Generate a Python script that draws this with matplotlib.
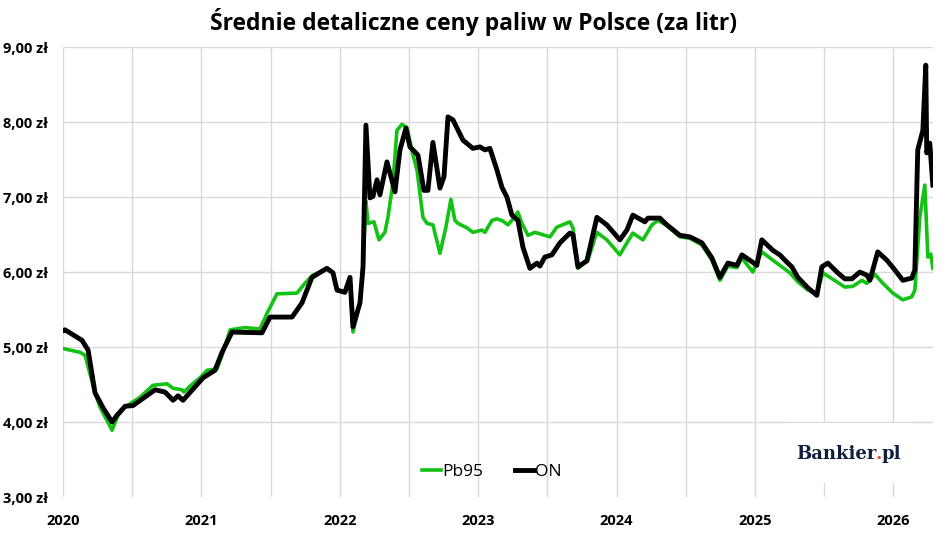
import matplotlib.pyplot as plt
import numpy as np
from matplotlib.patches import Rectangle

plt.rcParams['font.family'] = ['Open Sans', 'DejaVu Sans']

# daty jako ulamek roku, ceny w zl/litr
pb95_t = [0.000, 0.123, 0.159, 0.231, 0.267, 0.354, 0.397, 0.448, 0.556, 0.650,
          0.751, 0.795, 0.860, 0.874, 0.918, 0.990, 1.040, 1.113, 1.149, 1.207,
          1.315, 1.423, 1.474, 1.546, 1.691, 1.748, 1.799, 1.907, 1.951, 1.980,
          2.037, 2.074, 2.095, 2.146, 2.168, 2.189, 2.204, 2.247, 2.283, 2.326,
          2.348, 2.384, 2.413, 2.449, 2.485, 2.529, 2.558, 2.601, 2.630, 2.673,
          2.724, 2.767, 2.803, 2.832, 2.854, 2.919, 2.962, 3.027, 3.049, 3.100,
          3.136, 3.179, 3.215, 3.244, 3.287, 3.316, 3.360, 3.410, 3.519, 3.569,
          3.663, 3.685, 3.721, 3.793, 3.858, 3.930, 4.024, 4.075, 4.118, 4.191,
          4.256, 4.299, 4.364, 4.458, 4.530, 4.617, 4.689, 4.747, 4.805, 4.870,
          4.906, 4.985, 5.050, 5.180, 5.253, 5.310, 5.383, 5.448, 5.491, 5.592,
          5.650, 5.708, 5.773, 5.809, 5.867, 5.925, 5.997, 6.069, 6.134, 6.156,
          6.192, 6.228, 6.250, 6.271, 6.286]
pb95_v = [4.98, 4.93, 4.89, 4.39, 4.20, 3.89, 4.09, 4.20, 4.33, 4.49,
          4.51, 4.45, 4.43, 4.40, 4.48, 4.59, 4.69, 4.71, 4.89, 5.23,
          5.26, 5.24, 5.45, 5.71, 5.72, 5.85, 5.95, 6.05, 5.99, 5.76,
          5.73, 5.93, 5.20, 5.59, 6.07, 6.95, 6.65, 6.67, 6.43, 6.53,
          6.73, 7.19, 7.89, 7.97, 7.93, 7.56, 7.36, 6.73, 6.65, 6.63,
          6.25, 6.60, 6.97, 6.69, 6.65, 6.59, 6.53, 6.56, 6.53, 6.69,
          6.71, 6.68, 6.63, 6.69, 6.80, 6.65, 6.49, 6.53, 6.47, 6.60,
          6.67, 6.59, 6.05, 6.16, 6.53, 6.43, 6.23, 6.39, 6.52, 6.43,
          6.63, 6.69, 6.62, 6.47, 6.45, 6.36, 6.16, 5.89, 6.08, 6.06,
          6.19, 6.00, 6.27, 6.09, 5.99, 5.87, 5.76, 5.72, 5.99, 5.87,
          5.80, 5.81, 5.89, 5.85, 5.97, 5.85, 5.72, 5.63, 5.67, 5.76,
          6.73, 7.16, 6.20, 6.24, 6.05]

on_t = [0.000, 0.014, 0.137, 0.181, 0.231, 0.289, 0.354, 0.390, 0.448, 0.506,
        0.665, 0.737, 0.795, 0.831, 0.867, 0.954, 1.012, 1.098, 1.149, 1.221,
        1.438, 1.496, 1.655, 1.727, 1.799, 1.907, 1.951, 1.980, 2.037, 2.074,
        2.095, 2.146, 2.168, 2.189, 2.218, 2.240, 2.269, 2.290, 2.341, 2.399,
        2.435, 2.478, 2.507, 2.565, 2.608, 2.637, 2.673, 2.724, 2.753, 2.782,
        2.818, 2.890, 2.962, 3.013, 3.049, 3.085, 3.136, 3.172, 3.208, 3.244,
        3.287, 3.324, 3.374, 3.425, 3.446, 3.482, 3.533, 3.591, 3.663, 3.685,
        3.721, 3.786, 3.858, 3.930, 4.024, 4.075, 4.118, 4.205, 4.227, 4.313,
        4.364, 4.458, 4.530, 4.617, 4.689, 4.747, 4.805, 4.870, 4.906, 4.985,
        5.014, 5.050, 5.130, 5.180, 5.238, 5.267, 5.310, 5.383, 5.448, 5.484,
        5.527, 5.599, 5.650, 5.701, 5.758, 5.809, 5.831, 5.888, 5.953, 6.011,
        6.069, 6.134, 6.156, 6.177, 6.214, 6.235, 6.242, 6.264, 6.286]
on_v = [5.22, 5.23, 5.09, 4.96, 4.39, 4.19, 4.00, 4.09, 4.21, 4.22,
        4.43, 4.40, 4.29, 4.35, 4.29, 4.47, 4.59, 4.69, 4.93, 5.20,
        5.19, 5.40, 5.40, 5.59, 5.93, 6.05, 5.99, 5.76, 5.73, 5.93,
        5.27, 5.59, 6.07, 7.96, 6.99, 7.01, 7.23, 7.03, 7.47, 7.07,
        7.63, 7.92, 7.67, 7.56, 7.09, 7.09, 7.73, 7.12, 7.27, 8.07,
        8.03, 7.76, 7.65, 7.67, 7.63, 7.65, 7.36, 7.13, 7.00, 6.76,
        6.69, 6.33, 6.05, 6.12, 6.08, 6.20, 6.23, 6.39, 6.52, 6.50,
        6.07, 6.15, 6.73, 6.63, 6.43, 6.56, 6.76, 6.67, 6.72, 6.72,
        6.63, 6.49, 6.47, 6.39, 6.19, 5.93, 6.12, 6.09, 6.23, 6.13,
        6.09, 6.43, 6.29, 6.23, 6.12, 6.07, 5.93, 5.79, 5.69, 6.07,
        6.12, 5.99, 5.91, 5.91, 6.00, 5.96, 5.89, 6.27, 6.16, 6.03,
        5.89, 5.92, 6.03, 7.63, 7.89, 8.76, 7.59, 7.72, 7.16]

years = [2020, 2021, 2022, 2023, 2024, 2025, 2026]
y_ticks = [3, 4, 5, 6, 7, 8, 9]

fig = plt.figure(figsize=(9.48, 5.42), dpi=100)
ax = fig.add_axes([0.0665, 0.083, 0.9175, 0.830])

x_pb = 2020 + np.array(pb95_t)
x_on = 2020 + np.array(on_t)
ax.plot(x_pb, pb95_v, color='#14c214', lw=2.6, label='Pb95', solid_joinstyle='round', zorder=3)
ax.plot(x_on, on_v, color='black', lw=3.5, label='ON', solid_joinstyle='round', zorder=4)

ax.set_xlim(2020, 2020 + 6.286)
ax.set_ylim(3, 9)

# siatka: poziomo co 1 zl, pionowo co pol roku
for y in y_ticks[1:]:
    ax.axhline(y, color='#d9d9d9', lw=1, zorder=1)
for v in np.arange(2020, 2026.3, 0.5):
    ax.axvline(v, color='#d9d9d9', lw=1, zorder=1)

for s in ax.spines.values():
    s.set_visible(False)

ax.set_yticks(y_ticks)
ax.set_yticklabels([f"{v:.2f}".replace('.', ',') + ' zł' for v in y_ticks],
                   fontsize=10.5, fontweight='bold')
ax.set_xticks(years)
ax.set_xticklabels([str(y) for y in years], fontsize=10.5, fontweight='bold')
ax.tick_params(axis='both', length=0)
ax.tick_params(axis='x', pad=12)
ax.tick_params(axis='y', pad=11)

fig.suptitle('Średnie detaliczne ceny paliw w Polsce (za litr)', fontsize=16.5,
             fontweight='bold', y=0.985)

ax.legend(loc='center', bbox_to_anchor=(0.493, 0.056), ncol=2, frameon=False,
          fontsize=12.5, handlelength=1.1, columnspacing=1.8, handletextpad=0.1)

# logo na bialym tle
ax.add_patch(Rectangle((0.836, 0.031), 0.138, 0.133, transform=ax.transAxes,
                       facecolor='white', edgecolor='none', zorder=2))
t1 = ax.text(0.843, 0.084, 'Bankier', transform=ax.transAxes, family='DejaVu Serif',
             fontsize=13, fontweight='bold', color='#0f1f3d', zorder=5)
t2 = ax.annotate('.', xy=(1, 0), xycoords=t1, xytext=(-0.5, 0), textcoords='offset points',
                 fontsize=13, fontweight='bold', color='#e8452c', family='DejaVu Serif',
                 va='bottom', zorder=6)
ax.annotate('pl', xy=(1, 0), xycoords=t2, xytext=(-0.5, 0), textcoords='offset points',
            fontsize=13, fontweight='bold', color='#0f1f3d', family='DejaVu Serif',
            va='bottom', zorder=6)

fig.savefig('out.png', dpi=100)
